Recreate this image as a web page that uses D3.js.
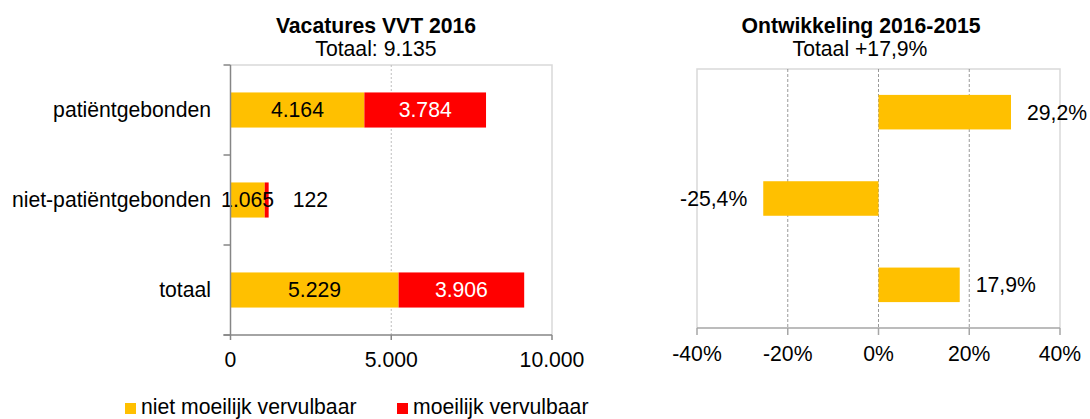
<!DOCTYPE html>
<html>
<head>
<meta charset="utf-8">
<script src="https://cdn.jsdelivr.net/npm/d3@7"></script>
<style>
  body { margin: 0; background: #fff; }
  svg { font-family: Arial, "Liberation Sans", sans-serif; }
</style>
</head>
<body>
<svg id="chart" width="1090" height="419"></svg>
<script>
// Data
const categories = ["patiëntgebonden", "niet-patiëntgebonden", "totaal"];
const nietMoeilijk = [4164, 1065, 5229];
const moeilijk = [3784, 122, 3906];
const ontwikkeling = [29.2, -25.4, 17.9];
const leftTicks = [0, 5000, 10000];
const rightTicks = [-40, -20, 0, 20, 40];
const seriesNames = ["niet moeilijk vervulbaar", "moeilijk vervulbaar"];
const colors = ["#FFC000", "#FF0000"];

const nl = d3.formatLocale({ decimal: ",", thousands: ".", grouping: [3], currency: ["€", ""], minus: "-" });
const fmtInt = nl.format(",d");
const fmtPct = nl.format(".1f");

const svg = d3.select("#chart");
const fontSize = 21.2;

// ---------- Left chart: Vacatures VVT 2016 ----------
const L = { left: 230.5, right: 552, top: 65, bottom: 335 };
const xL = d3.scaleLinear().domain([0, 10000]).range([L.left, L.right]);
const yL = d3.scaleBand().domain(categories).range([L.top, L.bottom]).paddingInner(0.61).paddingOuter(0.305);
const yLfull = d3.scaleBand().domain(categories).range([L.top, L.bottom]);

const left = svg.append("g");

// border top/right
left.append("path")
    .attr("d", `M${L.left},${L.top}H${L.right}V${L.bottom}`)
    .attr("fill", "none").attr("stroke", "#d9d9d9").attr("stroke-width", 1.5);

// gridline at 5000
left.selectAll(".grid").data(leftTicks.filter(t => t > 0 && t < 10000)).join("line")
    .attr("x1", d => xL(d)).attr("x2", d => xL(d))
    .attr("y1", L.top).attr("y2", L.bottom)
    .attr("stroke", "#bfbfbf").attr("stroke-dasharray", "2,2");

// stacked bars
const stackData = categories.map((c, i) => ({ cat: c, a: nietMoeilijk[i], b: moeilijk[i] }));
const stacked = d3.stack().keys(["a", "b"])(stackData);

stacked.forEach((s, si) => {
    left.selectAll(".bar" + si).data(s).join("rect")
        .attr("x", d => xL(d[0]))
        .attr("y", d => yL(d.data.cat))
        .attr("width", d => xL(d[1]) - xL(d[0]))
        .attr("height", yL.bandwidth())
        .attr("fill", colors[si]);
});

// value labels (narrow segments get their label beside the bar)
stacked.forEach((s, si) => {
    left.selectAll(".lab" + si).data(s).join("text")
        .attr("x", d => {
            const w = xL(d[1]) - xL(d[0]);
            return w < 30 ? xL(d[1]) + 24 : (xL(d[0]) + xL(d[1])) / 2;
        })
        .attr("y", d => yL(d.data.cat) + yL.bandwidth() / 2)
        .attr("dy", "0.35em")
        .attr("text-anchor", d => (xL(d[1]) - xL(d[0]) < 30 ? "start" : "middle"))
        .attr("font-size", fontSize)
        .attr("fill", d => (si === 1 && xL(d[1]) - xL(d[0]) >= 30 ? "#fff" : "#000"))
        .text(d => fmtInt(d[1] - d[0]));
});

// left axis
left.append("line")
    .attr("x1", L.left).attr("x2", L.left).attr("y1", L.top).attr("y2", L.bottom)
    .attr("stroke", "#868686").attr("stroke-width", 1.5);
const bandEdges = categories.map(c => yLfull(c)).concat([L.bottom]);
left.selectAll(".ytick").data(bandEdges).join("line")
    .attr("x1", L.left - 7).attr("x2", L.left)
    .attr("y1", d => d).attr("y2", d => d)
    .attr("stroke", "#868686").attr("stroke-width", 1.5);
left.selectAll(".ylab").data(categories).join("text")
    .attr("x", 211)
    .attr("y", d => yLfull(d) + yLfull.bandwidth() / 2)
    .attr("dy", "0.35em")
    .attr("text-anchor", "end")
    .attr("font-size", fontSize)
    .text(d => d);

// bottom axis
left.append("line")
    .attr("x1", L.left - 7).attr("x2", L.right).attr("y1", L.bottom).attr("y2", L.bottom)
    .attr("stroke", "#868686").attr("stroke-width", 1.5);
left.selectAll(".xtick").data(leftTicks).join("line")
    .attr("x1", d => xL(d)).attr("x2", d => xL(d))
    .attr("y1", L.bottom).attr("y2", L.bottom + 5)
    .attr("stroke", "#868686").attr("stroke-width", 1.5);
left.selectAll(".xlab").data(leftTicks).join("text")
    .attr("x", d => xL(d))
    .attr("y", L.bottom + 32)
    .attr("text-anchor", "middle")
    .attr("font-size", fontSize)
    .text(d => fmtInt(d));

// titles
left.append("text").attr("x", 376).attr("y", 33).attr("text-anchor", "middle")
    .attr("font-size", fontSize).attr("font-weight", "bold").text("Vacatures VVT 2016");
left.append("text").attr("x", 376).attr("y", 56).attr("text-anchor", "middle")
    .attr("font-size", fontSize).text("Totaal: " + fmtInt(nietMoeilijk[2] + moeilijk[2]));

// ---------- Right chart: Ontwikkeling 2016-2015 ----------
const R = { left: 697, right: 1060, top: 69, bottom: 328 };
const xR = d3.scaleLinear().domain([-40, 40]).range([R.left, R.right]);
const yR = d3.scaleBand().domain(categories).range([R.top, R.bottom]).paddingInner(0.6).paddingOuter(0.3);

const right = svg.append("g");

right.append("path")
    .attr("d", `M${R.left},${R.bottom}V${R.top}H${R.right}V${R.bottom}`)
    .attr("fill", "none").attr("stroke", "#d9d9d9").attr("stroke-width", 1.5);

right.selectAll(".grid").data(rightTicks.filter(t => t > -40 && t < 40)).join("line")
    .attr("x1", d => xR(d)).attr("x2", d => xR(d))
    .attr("y1", R.top).attr("y2", R.bottom)
    .attr("stroke", "#808080").attr("stroke-width", 0.8).attr("stroke-dasharray", "3,2");

const devData = categories.map((c, i) => ({ cat: c, v: ontwikkeling[i] }));

right.selectAll(".bar").data(devData).join("rect")
    .attr("x", d => xR(Math.min(0, d.v)))
    .attr("y", d => yR(d.cat))
    .attr("width", d => Math.abs(xR(d.v) - xR(0)))
    .attr("height", yR.bandwidth())
    .attr("fill", colors[0]);

right.selectAll(".lab").data(devData).join("text")
    .attr("x", d => (d.v >= 0 ? xR(d.v) + 16 : xR(d.v) - 16))
    .attr("y", d => yR(d.cat) + yR.bandwidth() / 2)
    .attr("dy", "0.35em")
    .attr("text-anchor", d => (d.v >= 0 ? "start" : "end"))
    .attr("font-size", fontSize)
    .text(d => fmtPct(d.v) + "%");

right.append("line")
    .attr("x1", R.left).attr("x2", R.right).attr("y1", R.bottom).attr("y2", R.bottom)
    .attr("stroke", "#a6a6a6").attr("stroke-width", 1.5);
right.selectAll(".xtick").data(rightTicks).join("line")
    .attr("x1", d => xR(d)).attr("x2", d => xR(d))
    .attr("y1", R.bottom).attr("y2", R.bottom + 7)
    .attr("stroke", "#a6a6a6").attr("stroke-width", 1.5);
right.selectAll(".xlab").data(rightTicks).join("text")
    .attr("x", d => xR(d))
    .attr("y", R.bottom + 33)
    .attr("text-anchor", "middle")
    .attr("font-size", fontSize)
    .text(d => d + "%");

right.append("text").attr("x", 861).attr("y", 33).attr("text-anchor", "middle")
    .attr("font-size", fontSize).attr("font-weight", "bold").text("Ontwikkeling 2016-2015");
right.append("text").attr("x", 860).attr("y", 56).attr("text-anchor", "middle")
    .attr("font-size", fontSize).text("Totaal +" + fmtPct(ontwikkeling[2]) + "%");

// ---------- Legend ----------
const legendX = [125, 397];
const legend = svg.append("g");
seriesNames.forEach((name, i) => {
    legend.append("rect")
        .attr("x", legendX[i]).attr("y", 403)
        .attr("width", 11).attr("height", 11)
        .attr("fill", colors[i]);
    legend.append("text")
        .attr("x", legendX[i] + 16).attr("y", 414)
        .attr("font-size", fontSize)
        .text(name);
});
</script>
</body>
</html>
